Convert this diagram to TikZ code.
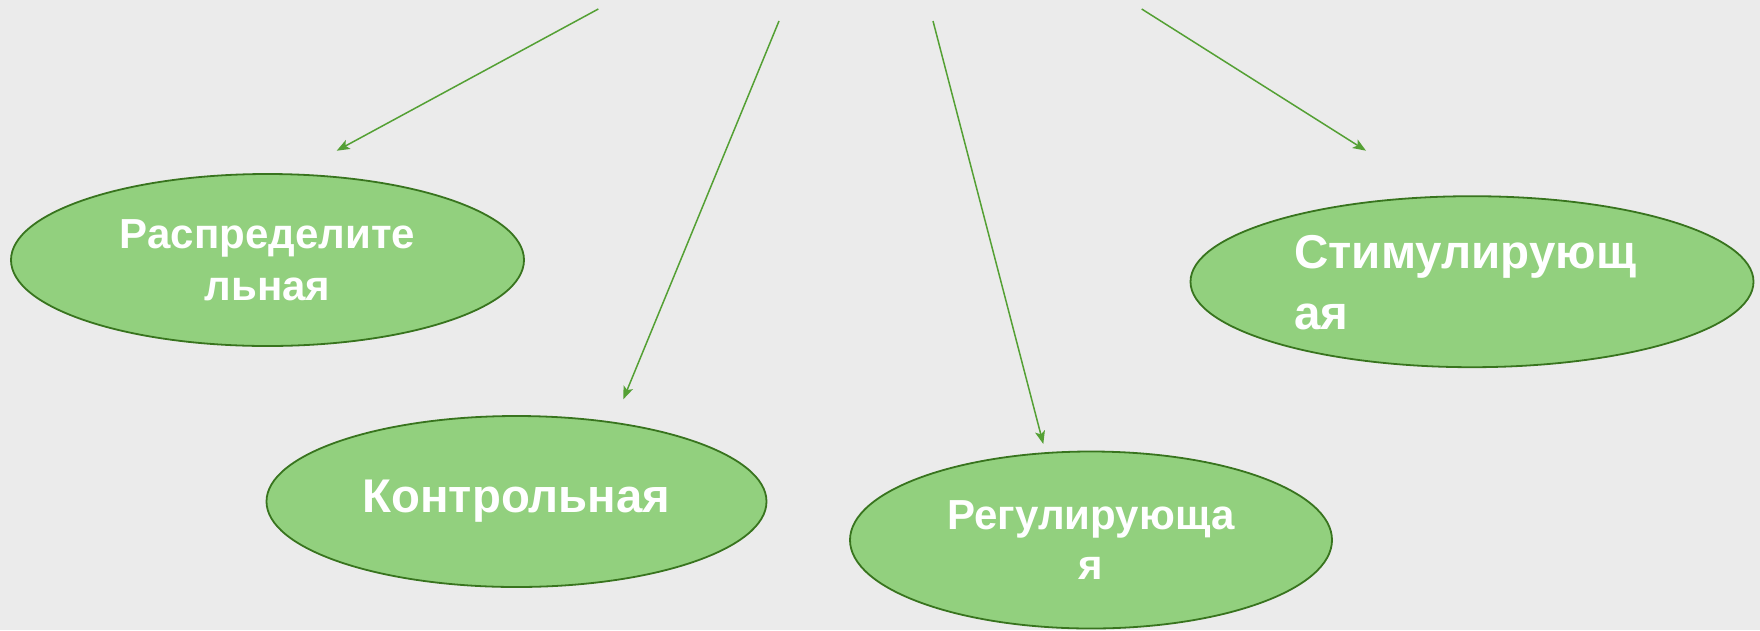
\documentclass[tikz,border=0pt]{standalone}
\usepackage{fontspec}
\setmainfont{Liberation Sans}
\usetikzlibrary{shapes.geometric,arrows.meta}
\definecolor{bg}{RGB}{235,235,235}
\definecolor{efill}{RGB}{146,208,126}
\definecolor{edraw}{RGB}{56,116,30}
\definecolor{arr}{RGB}{84,160,52}
\begin{document}
\begin{tikzpicture}[x=1pt,y=-1pt,
  oval/.style={ellipse, draw=edraw, fill=efill, line width=1.8pt, inner sep=0pt, text=white},
  line/.style={inner sep=0pt, text=white, anchor=base west, font=\bfseries\fontsize{47.5}{61}\selectfont},
  link/.style={draw=arr, line width=1.5pt, -{Stealth[length=13pt,width=10pt,inset=3pt]}}]
\fill[bg] (0,0) rectangle (1760,630);
\useasboundingbox (0,0) rectangle (1760,630);

\node[oval, minimum width=513pt, minimum height=172pt, align=center,
  font=\bfseries\fontsize{42}{51.7}\selectfont] (raspr) at (267.5,260) {Распределите\\льная};
\node[oval, minimum width=500pt, minimum height=171pt,
  font=\bfseries\fontsize{47.3}{58}\selectfont] (kontr) at (516.5,501.5) {Контрольная};
\node[oval, minimum width=482pt, minimum height=177pt, align=center,
  font=\bfseries\fontsize{42}{50.7}\selectfont] (regul) at (1091,540) {Регулирующа\\я};
\node[oval, minimum width=563pt, minimum height=171pt] (stim) at (1472,281.7) {};
\node[line] (stimA) at (1294,268.3) {Стимулирующ};
\node[line] (stimB) at (1294,329.3) {ая};

\coordinate (s1) at (598.3,9);    \coordinate (e1) at (336.7,150.7);
\coordinate (s2) at (779,21);     \coordinate (e2) at (623.3,399.3);
\coordinate (s3) at (933,21);     \coordinate (e3) at (1043.3,444);
\coordinate (s4) at (1141.7,9);   \coordinate (e4) at (1366,150.7);

\draw[link] (s1) -- (e1);
\draw[link] (s2) -- (e2);
\draw[link] (s3) -- (e3);
\draw[link] (s4) -- (e4);
\end{tikzpicture}
\end{document}
